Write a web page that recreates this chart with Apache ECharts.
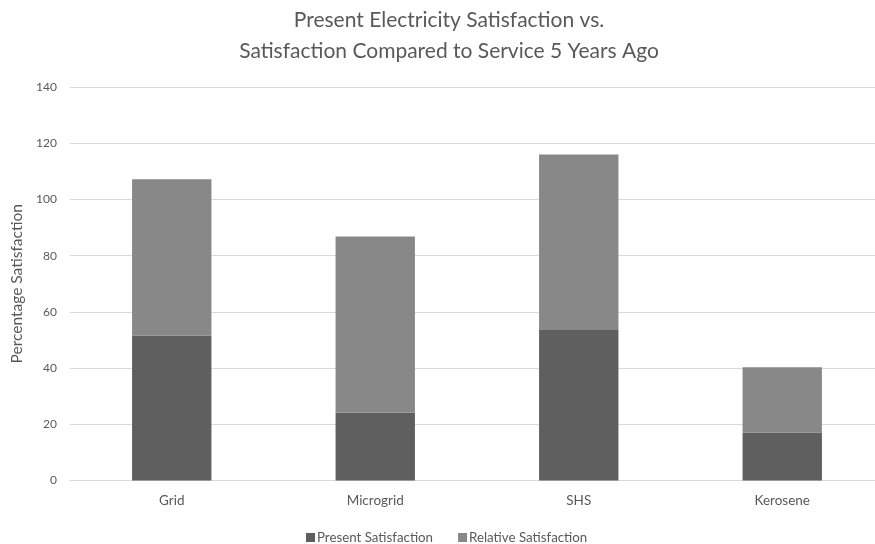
<!DOCTYPE html>
<html>
<head>
<meta charset="utf-8">
<script src="https://cdn.jsdelivr.net/npm/echarts@6/dist/echarts.min.js"></script>
<style>html,body{margin:0;padding:0;background:#fff}#c{width:875px;height:544px}</style>
</head>
<body>
<div id="c"></div>
<script>
const categories = ['Grid', 'Microgrid', 'SHS', 'Kerosene'];
const presentSatisfaction = [51.6, 24.1, 53.8, 17.1];
const relativeSatisfaction = [55.6, 62.7, 62.2, 23.2];
const yTicks = [0, 20, 40, 60, 80, 100, 120, 140];

const font = 'Lato, "Open Sans", sans-serif';
const txt = '#595959';
const chart = echarts.init(document.getElementById('c'));
chart.setOption({
  animation: false,
  title: {
    text: 'Present Electricity Satisfaction vs.\nSatisfaction Compared to Service 5 Years Ago',
    left: 444, textAlign: 'center', top: 0,
    textStyle: { fontFamily: font, fontSize: 21, fontWeight: 'normal', color: txt, lineHeight: 31 }
  },
  grid: { left: 70, top: 87, right: -9, bottom: 63.5, outerBoundsMode: 'none', containLabel: false },
  legend: {
    bottom: -5, left: 301, itemWidth: 9, itemHeight: 9, itemGap: 25,
    icon: 'rect',
    textStyle: { fontFamily: font, fontSize: 13.3, color: txt, padding: [0, 0, 0, -3] },
    data: ['Present Satisfaction', 'Relative Satisfaction']
  },
  xAxis: {
    type: 'category', data: categories,
    axisTick: { show: false },
    axisLine: { lineStyle: { color: '#d9d9d9', width: 1 } },
    axisLabel: { fontFamily: font, fontSize: 13.5, color: txt, margin: 13 }
  },
  yAxis: {
    type: 'value', min: yTicks[0], max: yTicks[yTicks.length - 1], interval: 20,
    name: 'Percentage Satisfaction', nameLocation: 'middle', nameGap: 38,
    nameTextStyle: { fontFamily: font, fontSize: 15.5, color: txt },
    axisLabel: { fontFamily: font, fontSize: 12, color: txt, margin: 13 },
    splitLine: { lineStyle: { color: '#d9d9d9', width: 1 } },
    axisLine: { show: false }, axisTick: { show: false }
  },
  series: [
    { name: 'Present Satisfaction', type: 'bar', stack: 's', data: presentSatisfaction,
      barWidth: '39%', itemStyle: { color: '#5f5f5f' } },
    { name: 'Relative Satisfaction', type: 'bar', stack: 's', data: relativeSatisfaction,
      barWidth: '39%', itemStyle: { color: '#888888' } }
  ]
});
</script>
</body>
</html>
